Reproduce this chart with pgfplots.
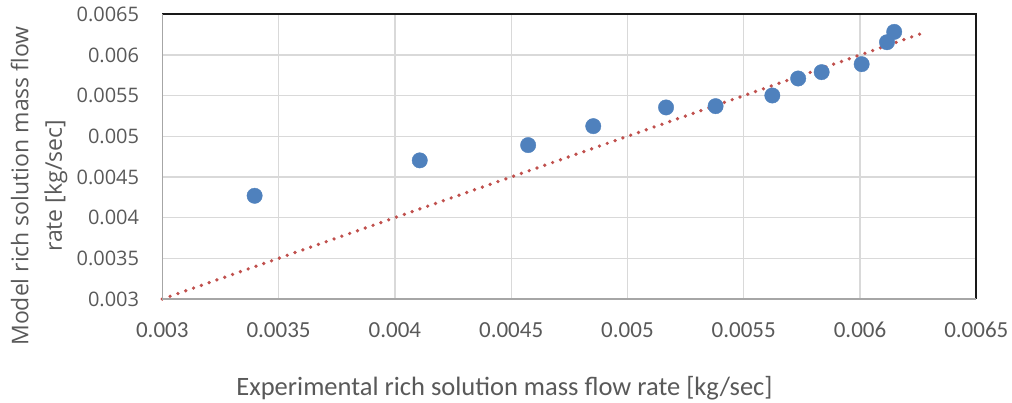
\documentclass[border=0pt]{standalone}
\usepackage{pgfplots}
\pgfplotsset{compat=1.18}
\usepackage{fontspec}
\setmainfont{Carlito}
\newfontfamily\osans{Open Sans}
\definecolor{txt}{HTML}{595959}
\definecolor{gridc}{HTML}{D9D9D9}
\definecolor{ptblue}{HTML}{4F81BD}
\definecolor{lred}{HTML}{C0504D}
\begin{document}
\begin{tikzpicture}
\path[use as bounding box] (0,0) rectangle (1012pt,402pt);
\begin{axis}[
  at={(162.3pt,103pt)}, anchor=south west,
  scale only axis, width=814pt, height=284.7pt,
  xmin=0.003, xmax=0.0065, ymin=0.003, ymax=0.0065,
  scaled ticks=false,
  xtick={0.003,0.0035,0.004,0.0045,0.005,0.0055,0.006,0.0065},
  xticklabels={0.003,0.0035,0.004,0.0045,0.005,0.0055,0.006,0.0065},
  ytick={0.003,0.0035,0.004,0.0045,0.005,0.0055,0.006,0.0065},
  yticklabels={0.003,0.0035,0.004,0.0045,0.005,0.0055,0.006,0.0065},
  major tick length=0pt,
  grid=major,
  major grid style={gridc, line width=1.3pt},
  axis line style={draw=none},
  xticklabel style={font=\fontsize{23}{27}\selectfont, text=txt, anchor=base, inner sep=0pt, yshift=-38pt},
  yticklabel style={font=\osans\fontsize{20}{24}\selectfont, text=txt, anchor=east, inner sep=0pt, xshift=-23pt},
  xlabel={Experimental rich solution mass flow rate [kg/sec]},
  xlabel style={font=\fontsize{26.5}{30}\selectfont, text=txt, at={(rel axis cs:0.4204,-0.3372)}, anchor=base},
  ylabel={Model rich solution mass flow\\rate [kg/sec]},
  ylabel style={font=\osans\fontsize{23}{33.5}\selectfont, text=txt, align=center, at={(rel axis cs:-0.1515,0.397)}, anchor=center},
  clip=false,
]
\addplot[only marks, mark=*, mark size=7.7pt, mark options={fill=ptblue, draw=ptblue}] table {
x y
0.003397 0.004269
0.004107 0.004704
0.004573 0.004892
0.004853 0.005125
0.005166 0.005355
0.005379 0.005371
0.005623 0.005502
0.005734 0.005711
0.005835 0.005789
0.006007 0.005887
0.006116 0.006157
0.006147 0.006284
};
\addplot[lred, line width=3.7pt, line cap=round, dash pattern=on 0pt off 8.27pt] coordinates {(0.003,0.003) (0.00628,0.00628)};
\draw[black!90, line width=2pt] (rel axis cs:0,1) -- (rel axis cs:1,1) -- (rel axis cs:1,0);
\draw[black!35, line width=1.5pt] (rel axis cs:0,1) -- (rel axis cs:0,0) -- (rel axis cs:1,0);
\end{axis}
\end{tikzpicture}
\end{document}
